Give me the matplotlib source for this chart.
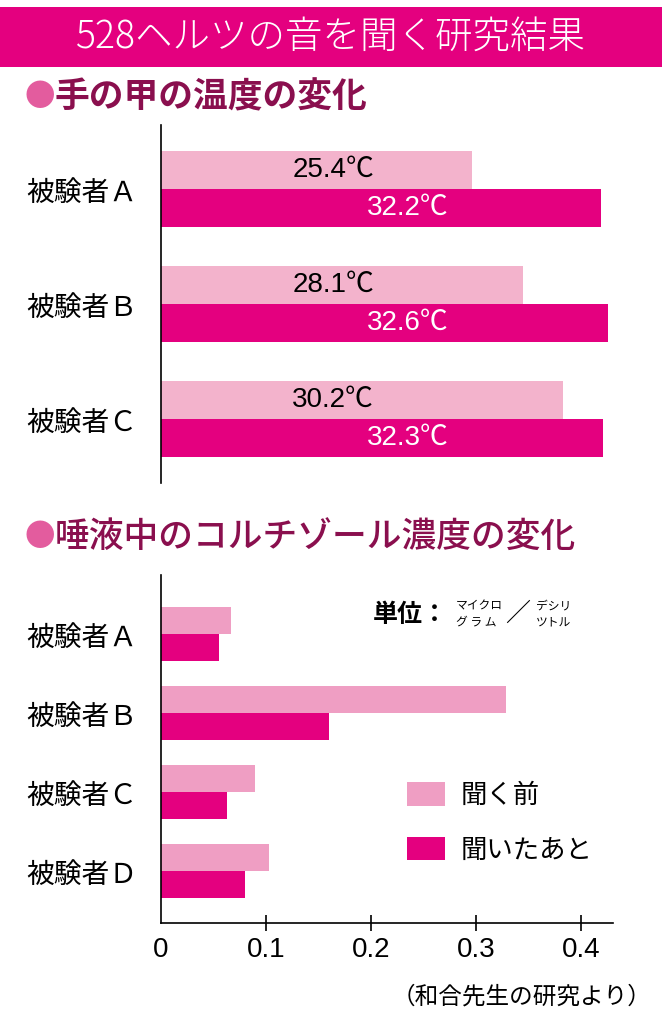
import matplotlib
matplotlib.use('Agg')
from matplotlib import pyplot as plt
from matplotlib import transforms
from matplotlib.patches import Rectangle

plt.rcParams['font.family'] = ['Noto Sans CJK JP', 'DejaVu Sans']

# data
temp_subjects = ['被験者Ａ', '被験者Ｂ', '被験者Ｃ']
temp_before = [25.4, 28.1, 30.2]
temp_after = [32.2, 32.6, 32.3]

cort_subjects = ['被験者Ａ', '被験者Ｂ', '被験者Ｃ', '被験者Ｄ']
cort_before = [0.067, 0.329, 0.090, 0.103]
cort_after = [0.055, 0.160, 0.063, 0.080]

cort_ticks = [0, 0.1, 0.2, 0.3, 0.4]
cort_tick_labels = ['0', '0.1', '0.2', '0.3', '0.4']
legend_labels = ['聞く前', '聞いたあと']

MAGENTA = '#E4007F'
PINK_TOP = '#F3B3CC'
PINK_BOT = '#EF9EC3'
HEAD = '#8A0F4E'
BULLET = '#E35C9E'
NUM = ['Liberation Sans', 'Noto Sans CJK JP']

W, H = 662, 1024
fig = plt.figure(figsize=(W / 100, H / 100), dpi=100)
fig.patch.set_facecolor('white')


def fx(px: float) -> float:
    return px / W


def fy(py: float) -> float:
    return 1 - py / H


def heading(py: float, text: str, weight: str) -> None:
    fig.text(fx(25), fy(py), '●', color=BULLET, fontsize=22, ha='left', va='center')
    fig.text(fx(55), fy(py), text, color=HEAD, fontsize=25, ha='left', va='center', weight=weight)


# title band
fig.patches.append(Rectangle((0, fy(67)), 1, 60 / H, transform=fig.transFigure,
                             facecolor=MAGENTA, edgecolor='none', zorder=0))
fig.text(fx(331), fy(37), '528ヘルツの音を聞く研究結果', color='white', fontsize=27,
         ha='center', va='center', weight='light')

heading(97, '手の甲の温度の変化', 'bold')
heading(537, '唾液中のコルチゾール濃度の変化', 'medium')

# --- hand temperature ---
ax1 = fig.add_axes([fx(161), fy(483), (620 - 161) / W, (483 - 125) / H])
h1 = 0.33
pos1 = list(range(len(temp_subjects)))
ax1.barh([p - h1 / 2 for p in pos1], temp_before, height=h1, color=PINK_TOP)
ax1.barh([p + h1 / 2 for p in pos1], temp_after, height=h1, color=MAGENTA)
ax1.set_xlim(8.9, 33.22)
ax1.set_ylim(2.557, -0.557)

blend = transforms.blended_transform_factory(ax1.transAxes, ax1.transData)
for p, vb, va_ in zip(pos1, temp_before, temp_after):
    ax1.text(0.375, p - h1 / 2, f'{vb}℃', transform=blend, ha='center', va='center',
             fontsize=20, color='black', family=NUM)
    ax1.text(0.538, p + h1 / 2, f'{va_}℃', transform=blend, ha='center', va='center',
             fontsize=20, color='white', family=NUM)

for side in ['top', 'right', 'bottom']:
    ax1.spines[side].set_visible(False)
ax1.spines['left'].set_linewidth(1.2)
ax1.set_xticks([])
ax1.set_yticks(pos1, temp_subjects, fontsize=20)
ax1.tick_params(axis='y', length=0, pad=17)

# --- salivary cortisol ---
ax2 = fig.add_axes([fx(161), fy(923), (613 - 161) / W, (923 - 575) / H])
h2 = 0.342
pos2 = list(range(len(cort_subjects)))
ax2.barh([p - h2 / 2 for p in pos2], cort_before, height=h2, color=PINK_BOT, label=legend_labels[0])
ax2.barh([p + h2 / 2 for p in pos2], cort_after, height=h2, color=MAGENTA, label=legend_labels[1])
ax2.set_xlim(0, 0.4305)
ax2.set_ylim(3.658, -0.747)

for side in ['top', 'right']:
    ax2.spines[side].set_visible(False)
ax2.spines['left'].set_linewidth(1.2)
ax2.spines['bottom'].set_linewidth(1.2)
ax2.set_yticks(pos2, cort_subjects, fontsize=20)
ax2.tick_params(axis='y', length=0, pad=17)
ax2.set_xticks(cort_ticks, cort_tick_labels, fontsize=20, family=NUM)
ax2.tick_params(axis='x', direction='inout', length=12, width=1.2, pad=4)
ax2.xaxis.get_major_ticks()[0].tick1line.set_visible(False)

ax2.legend(loc='upper left', bbox_to_anchor=(fx(407), fy(782)), bbox_transform=fig.transFigure,
           frameon=False, fontsize=19, handlelength=1.45, handleheight=1.0,
           handletextpad=0.6, labelspacing=1.05, borderpad=0, borderaxespad=0)

# unit note
fig.text(fx(373), fy(615), '単位：', fontsize=18, weight='bold', ha='left', va='center')
fig.text(fx(456), fy(606), 'マイクロ', fontsize=8.5, ha='left', va='center')
fig.text(fx(456), fy(622), 'グ ラ ム', fontsize=8.5, ha='left', va='center')
fig.text(fx(518), fy(614), '／', fontsize=18, ha='center', va='center')
fig.text(fx(536), fy(606), 'デシリ', fontsize=8.5, ha='left', va='center')
fig.text(fx(536), fy(622), 'ツトル', fontsize=8.5, ha='left', va='center')

fig.text(fx(392), fy(997), '（和合先生の研究より）', fontsize=17, ha='left', va='center')

fig.savefig('out.png', dpi=100, facecolor='white')
